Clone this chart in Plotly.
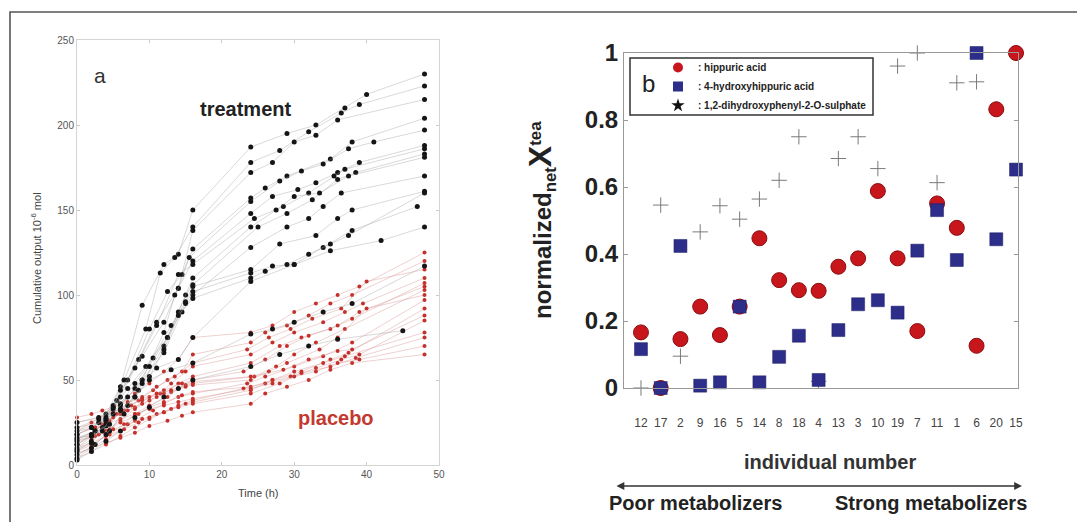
import plotly.graph_objects as go

# ---------------- Panel a data (cumulative output, 10^-6 mol vs time, h) ----------------
treat_times = [
    [0, 2, 4, 6, 9, 12, 14, 16, 24, 29, 33, 37, 40, 48],
    [0, 2.5, 4, 6.5, 9.5, 11.5, 13.5, 16, 24, 28, 32, 36.5, 39, 48],
    [0, 2, 3.5, 5.5, 8.5, 11, 14, 16, 24, 27, 30, 33, 36, 48],
    [0, 3, 5, 7, 10, 12.5, 14.5, 16, 24, 26, 29, 35, 38, 48],
    [0, 2, 4, 6, 9, 12, 14, 15.5, 24, 28, 31, 34, 37.5, 41, 48],
    [0, 2.5, 4.5, 7, 9, 12, 13.5, 16, 24, 27, 30.5, 33, 36, 39, 48],
    [0, 2, 4, 6, 8, 11, 14, 16, 24.5, 28.5, 32, 35.5, 37, 48],
    [0, 3, 5, 7, 9.5, 12.5, 15, 16, 25, 29, 32.5, 36, 38.5, 48],
    [0, 2, 4, 6.5, 8.5, 12, 14, 16, 24, 27.5, 30, 33.5, 37.5, 48],
    [0, 2, 4, 6, 9, 12, 14.5, 16, 24, 29, 32, 34, 36.5, 48],
    [0, 2.5, 4, 6, 8, 10.5, 13, 15, 16, 24, 28, 33, 36, 38, 48],
    [0, 2, 3.5, 5, 8, 10, 12.5, 15, 16, 24, 27, 30, 34, 38, 47],
    [0, 2, 4.5, 6, 8, 10, 12, 14, 16, 24, 26, 29, 32, 35, 37.5, 48],
    [0, 3, 5, 7, 9, 11, 14, 16, 24, 30, 35, 42, 48],
    [0, 2, 4, 6, 8, 10, 12, 14, 16, 24, 28, 32, 36, 45],
    [0, 2, 4, 6, 8, 10, 13, 16, 24, 27, 30, 34, 38, 48],
]
treat_values = [
    [12, 18, 26, 46, 94, 118, 124, 150, 187, 195, 200, 210, 218, 230],
    [16, 20, 30, 50, 80, 113, 122, 140, 178, 185, 196, 207, 212, 223],
    [8, 14, 22, 38, 62, 84, 104, 138, 172, 178, 190, 194, 203, 215],
    [20, 25, 35, 50, 80, 102, 112, 127, 157, 163, 170, 180, 190, 204],
    [10, 17, 24, 44, 64, 84, 104, 122, 155, 167, 173, 177, 186, 190, 197],
    [6, 12, 20, 35, 50, 78, 100, 120, 148, 158, 162, 166, 172, 178, 188],
    [18, 22, 28, 40, 57, 82, 112, 118, 145, 152, 160, 170, 174, 186],
    [22, 27, 33, 45, 58, 75, 100, 106, 140, 148, 156, 168, 172, 183],
    [4, 10, 18, 30, 44, 70, 90, 110, 140, 150, 158, 160, 170, 181],
    [12, 17, 23, 35, 50, 66, 90, 100, 128, 140, 145, 152, 160, 170],
    [15, 20, 26, 36, 48, 63, 82, 96, 105, 115, 130, 135, 145, 150, 161],
    [9, 13, 20, 30, 45, 58, 75, 95, 102, 113, 117, 118, 128, 138, 152],
    [14, 18, 24, 32, 40, 52, 68, 88, 98, 110, 114, 118, 124, 130, 135, 160],
    [25, 28, 34, 40, 48, 57, 62, 75, 108, 118, 126, 132, 140],
    [3, 8, 14, 20, 28, 34, 40, 45, 50, 58, 65, 70, 74, 79],
    [18, 22, 27, 33, 40, 50, 56, 60, 77, 80, 84, 90, 95, 117],
]
placebo_times = [
    [0, 2, 4, 6, 8, 10, 12, 14, 16, 24, 27, 30, 33, 36, 39, 48],
    [0, 2.5, 4.5, 6.5, 8.5, 10.5, 12.5, 14.5, 16, 24, 26, 29, 32, 35, 38, 48],
    [0, 2, 3.5, 5.5, 7.5, 9, 11, 13.5, 16, 23.5, 26.5, 29.5, 32.5, 36.5, 40, 48],
    [0, 3, 5, 7, 9, 11.5, 13, 15, 16, 24, 27, 30, 34, 37, 39.5, 48],
    [0, 2, 4, 6, 8, 10, 12, 14, 16, 24, 28, 31, 35, 38, 48],
    [0, 2.5, 4, 6, 8, 10, 12, 14.5, 16, 23, 26, 29, 32, 36, 39, 48],
    [0, 2, 4.5, 6.5, 8, 10, 12.5, 14, 16, 24.5, 27.5, 30, 33, 37, 48],
    [0, 3, 5, 7, 9, 11, 13, 15, 16, 24, 26.5, 29, 33.5, 36, 40, 48],
    [0, 2, 4, 6, 8, 10.5, 12, 14, 16, 23.5, 26, 30, 34, 38, 48],
    [0, 2.5, 4.5, 6, 8.5, 10, 12, 14.5, 16, 24, 27, 31, 35, 37.5, 48],
    [0, 2, 3.5, 5, 7, 9, 11, 13, 15, 16, 24, 28.5, 32, 36, 38, 48],
    [0, 2, 4, 6, 8, 10, 12, 14, 16, 23, 26, 29.5, 33, 36.5, 39, 48],
    [0, 3, 5, 7, 9, 11, 13, 15, 16, 24, 27, 30, 34, 37, 48],
    [0, 2, 4, 6.5, 8.5, 10, 12, 14, 16, 24, 28, 31, 35, 38.5, 48],
    [0, 2.5, 4, 6, 8, 10, 12, 14, 16, 24, 27, 30, 33, 36, 39, 48],
    [0, 2, 4, 6, 8, 10, 12.5, 14.5, 16, 24, 26, 29, 32, 35, 38, 48],
]
placebo_values = [
    [20, 25, 30, 36, 42, 48, 55, 62, 75, 78, 82, 90, 95, 100, 105, 125],
    [15, 20, 26, 32, 38, 44, 50, 55, 65, 72, 78, 82, 88, 95, 100, 120],
    [12, 18, 24, 30, 35, 40, 46, 52, 60, 68, 75, 80, 86, 92, 108, 115],
    [25, 28, 31, 35, 38, 42, 48, 55, 58, 65, 72, 78, 84, 90, 95, 110],
    [10, 15, 20, 26, 33, 38, 42, 48, 52, 60, 70, 75, 80, 86, 107],
    [18, 22, 26, 30, 34, 40, 44, 48, 50, 55, 62, 70, 76, 82, 90, 105],
    [8, 12, 18, 24, 30, 35, 40, 45, 48, 52, 58, 65, 72, 80, 103],
    [22, 25, 28, 32, 36, 40, 43, 46, 47, 50, 55, 60, 68, 75, 92, 100],
    [6, 10, 15, 20, 26, 32, 36, 40, 42, 48, 52, 58, 64, 72, 97],
    [14, 17, 21, 25, 30, 34, 37, 41, 43, 46, 50, 55, 62, 66, 92],
    [28, 30, 32, 34, 37, 39, 42, 44, 47, 49, 52, 56, 62, 67, 68, 88],
    [4, 8, 12, 17, 22, 27, 31, 35, 38, 45, 48, 52, 57, 62, 65, 85],
    [16, 18, 21, 24, 27, 30, 33, 36, 37, 44, 50, 55, 60, 64, 78],
    [10, 13, 17, 21, 25, 28, 31, 34, 36, 42, 48, 54, 58, 63, 75],
    [20, 22, 24, 27, 30, 33, 35, 37, 39, 45, 48, 52, 55, 60, 62, 70],
    [7, 10, 13, 16, 19, 23, 26, 29, 31, 36, 42, 46, 50, 56, 60, 65],
]

# ---------------- Panel b data (normalized net X^tea per individual) ----------------
individuals = ["12", "17", "2", "9", "16", "5", "14", "8", "18", "4",
               "13", "3", "10", "19", "7", "11", "1", "6", "20", "15"]
hippuric = [0.166, 0.0, 0.146, 0.243, 0.158, 0.243, 0.447, 0.322, 0.292, 0.290,
            0.362, 0.387, 0.588, 0.387, 0.170, 0.551, 0.478, 0.126, 0.832, 1.0]
hydroxyhippuric = [0.116, 0.0, 0.424, 0.007, 0.017, 0.243, 0.017, 0.093, 0.156, 0.024,
                   0.173, 0.250, 0.262, 0.225, 0.410, 0.531, 0.382, 1.0, 0.444, 0.652]
sulphate = [0.0, 0.546, 0.095, 0.466, 0.544, 0.504, 0.564, 0.620, 0.750, 0.020,
            0.685, 0.750, 0.655, 0.961, 1.0, 0.613, 0.911, 0.914, 0.832, 1.0]
legend_names = [": hippuric acid", ": 4-hydroxyhippuric acid",
                ": 1,2-dihydroxyphenyl-2-O-sulphate"]

W, H = 1077, 522
FONT = "Liberation Sans, Arial, sans-serif"


def px(x):
    return x / W


def py(y):
    return 1 - y / H


fig = go.Figure()

# panel a: placebo first, treatment on top
for t, v in zip(placebo_times, placebo_values):
    fig.add_trace(go.Scatter(
        x=t, y=v, mode="lines+markers", xaxis="x", yaxis="y",
        line=dict(color="rgba(215,150,150,0.55)", width=0.8),
        marker=dict(color="#c4302b", size=4),
        showlegend=False, cliponaxis=False, hoverinfo="skip"))
for t, v in zip(treat_times, treat_values):
    fig.add_trace(go.Scatter(
        x=t, y=v, mode="lines+markers", xaxis="x", yaxis="y",
        line=dict(color="rgba(160,160,160,0.5)", width=0.8),
        marker=dict(color="#151515", size=5),
        showlegend=False, cliponaxis=False, hoverinfo="skip"))

# panel b
xi = list(range(1, len(individuals) + 1))
fig.add_trace(go.Scatter(
    x=xi, y=sulphate, mode="markers", xaxis="x2", yaxis="y2",
    marker=dict(symbol="cross-thin", size=11, line=dict(width=1, color="#7a7a7a")),
    showlegend=False, cliponaxis=False))
fig.add_trace(go.Scatter(
    x=xi, y=hippuric, mode="markers", xaxis="x2", yaxis="y2",
    marker=dict(symbol="circle", size=15, color="#c8161d",
                line=dict(width=1, color="#8a0d10")),
    showlegend=False, cliponaxis=False))
fig.add_trace(go.Scatter(
    x=xi, y=hydroxyhippuric, mode="markers", xaxis="x2", yaxis="y2",
    marker=dict(symbol="square", size=13, color="#2d2d8a",
                line=dict(width=0.5, color="#1e1e66")),
    showlegend=False, cliponaxis=False))

# legend entries
leg_markers = [dict(symbol="circle", size=10, color="#c8161d"),
               dict(symbol="square", size=10, color="#2d2d8a"),
               dict(symbol="star", size=10, color="#111111")]
for name, mk in zip(legend_names, leg_markers):
    fig.add_trace(go.Scatter(x=[None], y=[None], mode="markers", xaxis="x2", yaxis="y2",
                             marker=mk, name=name, showlegend=True))

axis_a = dict(showline=True, mirror="ticks", linecolor="#d4d4d4", linewidth=1,
              ticks="inside", ticklen=3, tickcolor="#cccccc",
              showgrid=False, zeroline=False, automargin=False,
              tickfont=dict(family=FONT, size=10, color="#555555"))

fig.update_layout(
    width=W, height=H, autosize=False,
    margin=dict(l=0, r=0, t=0, b=0, pad=0, autoexpand=False),
    paper_bgcolor="white", plot_bgcolor="rgba(0,0,0,0)",
    font=dict(family=FONT),
    xaxis=dict(domain=[px(77), px(439)], range=[0, 50], tickvals=[0, 10, 20, 30, 40, 50],
               anchor="y", **axis_a),
    yaxis=dict(domain=[py(465), py(40)], range=[0, 250], tickvals=[0, 50, 100, 150, 200, 250],
               anchor="x", **axis_a),
    xaxis2=dict(domain=[px(624), px(1018)], range=[0.14, 20.1], tickvals=xi,
                ticktext=individuals, anchor="y2", automargin=False,
                showline=True, mirror=True, linecolor="#999999", linewidth=1,
                ticks="outside", ticklen=24, tickcolor="rgba(0,0,0,0)",
                showgrid=False, zeroline=False,
                tickfont=dict(family=FONT, size=12, color="#444444")),
    yaxis2=dict(domain=[py(388), py(53)], range=[0, 1],
                tickvals=[0, 0.2, 0.4, 0.6, 0.8, 1],
                ticktext=["0", "0.2", "0.4", "0.6", "0.8", "1"], anchor="x2",
                automargin=False,
                showline=True, mirror="ticks", linecolor="#999999", linewidth=1,
                ticks="inside", ticklen=4, tickcolor="#999999",
                showgrid=False, zeroline=False,
                tickfont=dict(family=FONT, size=24, color="#222222", weight="bold")),
    legend=dict(x=px(658), y=py(53), xanchor="left", yanchor="top",
                bgcolor="rgba(0,0,0,0)", borderwidth=0,
                font=dict(family=FONT, size=10, color="#222222", weight="bold"),
                tracegroupgap=0, itemwidth=30),
    showlegend=True,
)

shapes = [
    # outer figure frame
    dict(type="rect", xref="paper", yref="paper", x0=px(10), x1=1.02, y0=-0.05, y1=py(12),
         line=dict(color="#555555", width=1.6)),
    # legend box of panel b
    dict(type="rect", xref="paper", yref="paper", x0=px(630), x1=px(873), y0=py(115), y1=py(58),
         line=dict(color="#333333", width=1.5)),
]
fig.update_layout(shapes=shapes)

ann = [
    dict(text="a", x=px(100), y=py(75), font=dict(size=21, color="#333333")),
    dict(text="<b>treatment</b>", x=px(245), y=py(109), font=dict(size=20, color="#222222")),
    dict(text="<b>placebo</b>", x=px(336), y=py(418), font=dict(size=20, color="#c4392f")),
    dict(text="Cumulative output 10<sup>-6</sup> mol", x=px(36), y=py(258), textangle=-90,
         font=dict(size=11, color="#444444")),
    dict(text="Time (h)", x=px(258), y=py(493), font=dict(size=11, color="#444444")),
    dict(text="b", x=px(648), y=py(83), font=dict(size=24, color="#222222")),
    dict(text="<b>normalized<sub>net</sub><span style='font-size:32px'>X</span><sup>tea</sup></b>",
         x=px(541), y=py(220), textangle=-90, font=dict(size=24, color="#222222")),
    dict(text="<b>individual number</b>", x=px(830), y=py(462), font=dict(size=20, color="#333333")),
    dict(text="<b>Poor metabolizers</b>", x=px(607), y=py(503), xanchor="left",
         font=dict(size=20, color="#222222")),
    dict(text="<b>Strong metabolizers</b>", x=px(833), y=py(503), xanchor="left",
         font=dict(size=20, color="#222222")),
]
for a in ann:
    a.setdefault("xanchor", "center")
    fig.add_annotation(xref="paper", yref="paper", yanchor="middle", showarrow=False,
                       font_family=FONT, **{k: v for k, v in a.items()})

# double-headed arrow under "individual number"
fig.add_annotation(xref="paper", yref="paper", x=px(1022), y=py(486), ax=-(1022 - 615), ay=0,
                   axref="pixel", ayref="pixel", text="", showarrow=True,
                   arrowhead=2, arrowsize=1.2, arrowwidth=1.3, arrowcolor="#333333",
                   arrowside="end+start")

fig.write_html("out.html", config={"displayModeBar": False},
               post_script="document.body.style.margin='0';document.body.style.overflow='hidden';")
